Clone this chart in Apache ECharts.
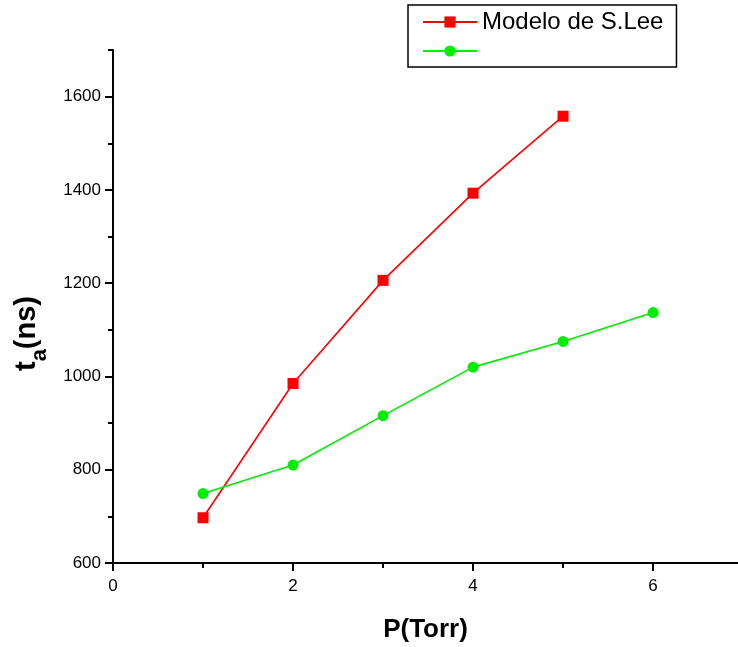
<!DOCTYPE html>
<html><head><meta charset="utf-8">
<script src="https://cdn.jsdelivr.net/npm/echarts@6/dist/echarts.min.js"></script>
<style>html,body{margin:0;padding:0;background:#fff}#c{width:738px;height:647px}</style>
</head><body><div id="c"></div>
<script>
const xRed = [1, 2, 3, 4, 5];
const yRed = [697, 985, 1206, 1393, 1558];
const xGreen = [1, 2, 3, 4, 5, 6];
const yGreen = [749, 810, 916, 1020, 1075, 1137];
const redName = 'Modelo de S.Lee';
const greenName = ' ';
const xMajor = [0, 2, 4, 6];
const xMinor = [1, 3, 5];
const yMajor = [600, 800, 1000, 1200, 1400, 1600];
const yMinor = [700, 900, 1100, 1300, 1500, 1700];

const font = 'Arial, "Liberation Sans", sans-serif';
const chart = echarts.init(document.getElementById('c'));
const gridPos = {left: 113, right: 0, top: 50, bottom: 84, outerBoundsMode: 'none', containLabel: false};
const fmt = v => String(v);
chart.setOption({
  animation: false,
  grid: [gridPos],
  xAxis: [
    {type: 'value', min: 0, max: 6.944, interval: 1,
     name: 'P(Torr)', nameLocation: 'middle', nameGap: 54,
     nameTextStyle: {fontFamily: font, fontSize: 26, fontWeight: 'bold', color: '#000'},
     axisLine: {lineStyle: {color: '#000', width: 2}},
     axisTick: {inside: false, length: 8, lineStyle: {color: '#000', width: 2}, customValues: xMajor},
     axisLabel: {fontFamily: font, fontSize: 17, color: '#000', margin: 15, customValues: xMajor, formatter: fmt},
     splitLine: {show: false}},
    {type: 'value', min: 0, max: 6.944, interval: 1, position: 'bottom',
     axisLine: {show: false},
     axisTick: {inside: false, length: 5, lineStyle: {color: '#000', width: 2}, customValues: xMinor},
     axisLabel: {show: false}, splitLine: {show: false}}
  ],
  yAxis: [
    {type: 'value', min: 600, max: 1700, interval: 100,
     name: '{t|t}{s|a}{t|(ns)}', nameLocation: 'middle', nameGap: 72, nameRotate: 90,
     nameTextStyle: {padding: [0, 54, 0, 0], rich: {
       t: {fontFamily: font, fontSize: 29, fontWeight: 'bold', color: '#000'},
       s: {fontFamily: font, fontSize: 22, fontWeight: 'bold', color: '#000', verticalAlign: 'bottom', padding: [0, 0, -10, 0]}
     }},
     axisLine: {lineStyle: {color: '#000', width: 2}},
     axisTick: {inside: false, length: 8, lineStyle: {color: '#000', width: 2}, customValues: yMajor},
     axisLabel: {fontFamily: font, fontSize: 17, color: '#000', margin: 12, customValues: yMajor, formatter: fmt},
     splitLine: {show: false}},
    {type: 'value', min: 600, max: 1700, interval: 100, position: 'left',
     axisLine: {show: false},
     axisTick: {inside: false, length: 5, lineStyle: {color: '#000', width: 2}, customValues: yMinor},
     axisLabel: {show: false}, splitLine: {show: false}}
  ],
  legend: {
    left: 408, top: 5, orient: 'vertical',
    padding: [5, 13, 4, 14], itemGap: 5,
    borderColor: '#000', borderWidth: 1.5, backgroundColor: '#fff',
    itemWidth: 54, itemHeight: 14,
    textStyle: {fontFamily: font, fontSize: 24, color: '#000', width: 180},
    data: [{name: redName}, {name: greenName}]
  },
  series: [
    {name: redName, type: 'line', data: xRed.map((x, i) => [x, yRed[i]]),
     symbol: 'rect', symbolSize: 11, color: '#ff0000',
     lineStyle: {color: '#ff0000', width: 1.6}, itemStyle: {color: '#ff0000'}},
    {name: greenName, type: 'line', data: xGreen.map((x, i) => [x, yGreen[i]]),
     symbol: 'circle', symbolSize: 11, color: '#00ee00',
     lineStyle: {color: '#00ee00', width: 1.6}, itemStyle: {color: '#00ee00'}}
  ]
});
</script></body></html>
